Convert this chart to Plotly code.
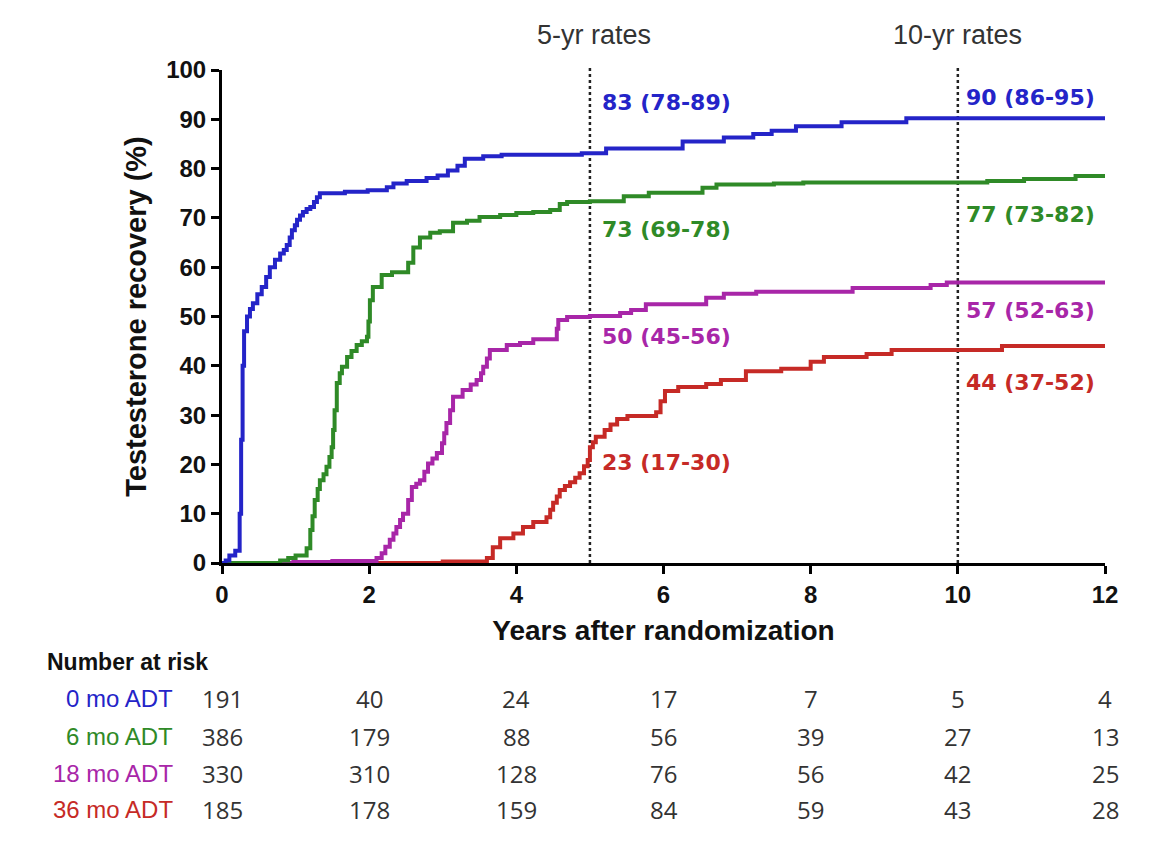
import plotly.graph_objects as go

# ---------------- data ----------------
groups = ["0 mo ADT", "6 mo ADT", "18 mo ADT", "36 mo ADT"]
colors = ["#2424c8", "#2f8a27", "#a826a8", "#c62a26"]

t_0mo = [0, 0.05, 0.10, 0.18, 0.24, 0.26, 0.28, 0.30, 0.34, 0.38, 0.42, 0.48, 0.54, 0.60, 0.65,
         0.72, 0.79, 0.84, 0.88, 0.92, 0.95, 0.99, 1.02, 1.06, 1.10, 1.15, 1.20, 1.25, 1.29, 1.33,
         1.67, 1.98, 2.24, 2.33, 2.51, 2.78, 2.93, 3.07, 3.20, 3.30, 3.55, 3.80, 4.89, 5.22, 6.26,
         6.82, 7.22, 7.47, 7.80, 8.42, 9.30, 12.0]
v_0mo = [0, 0.5, 1.5, 2.5, 10, 25, 40, 47, 50, 51.5, 52.7, 54.5, 56, 58, 60,
         61.5, 62.8, 63.5, 64.5, 66, 67.5, 68.5, 69.6, 70.5, 71.2, 71.8, 72.2, 73.2, 74.2, 75,
         75.3, 75.6, 76.2, 77, 77.5, 78.1, 78.6, 79.6, 80.6, 82, 82.5, 82.8, 83.1, 84.1, 85.5,
         86.3, 87, 87.7, 88.6, 89.4, 90.2, 90.2]

t_6mo = [0, 0.79, 0.90, 1.00, 1.15, 1.20, 1.23, 1.26, 1.30, 1.33, 1.38, 1.42, 1.46, 1.49, 1.51,
         1.53, 1.56, 1.60, 1.63, 1.70, 1.76, 1.83, 1.90, 1.97, 1.99, 2.01, 2.05, 2.17, 2.31, 2.53,
         2.60, 2.69, 2.83, 2.96, 3.14, 3.33, 3.50, 3.78, 4.00, 4.23, 4.46, 4.59, 4.69, 5.00, 5.46,
         5.80, 6.53, 6.72, 7.50, 7.90, 10.4, 10.9, 11.6, 12.0]
v_6mo = [0, 0.5, 1, 1.5, 3, 6.7, 9.5, 12.8, 15, 16.8, 18, 19.5, 21.5, 23.5, 27,
         31, 36.5, 38.5, 39.8, 41.8, 43, 44.2, 45, 45.9, 49, 53.3, 56, 58.4, 59, 60.9,
         64, 66, 67, 67.3, 69, 69.4, 70.2, 70.6, 71, 71.2, 71.6, 72.8, 73.2, 73.4, 74.4,
         75.1, 76.1, 76.8, 77, 77.2, 77.5, 77.9, 78.5, 78.6]

t_18mo = [0, 0.97, 1.50, 2.10, 2.17, 2.22, 2.28, 2.33, 2.37, 2.42, 2.46, 2.53, 2.58, 2.64, 2.69,
          2.75, 2.80, 2.86, 2.92, 2.99, 3.02, 3.05, 3.10, 3.14, 3.27, 3.38, 3.46, 3.52, 3.55, 3.60,
          3.64, 3.87, 4.05, 4.23, 4.55, 4.57, 4.69, 5.00, 5.41, 5.56, 5.76, 6.58, 6.82, 7.26, 8.57,
          9.63, 9.85, 12.0]
v_18mo = [0, 0.2, 0.4, 1, 2, 3.3, 4.7, 6, 7.3, 8.7, 10, 12.8, 15.4, 16.1, 16.8,
          18.5, 20.2, 21.2, 22.3, 24.3, 26.3, 28.4, 31, 33.7, 35.1, 36.2, 37.1, 38.5, 39.8, 41.5,
          43.2, 44.2, 44.6, 45.4, 47.5, 49.3, 49.9, 50.1, 50.7, 51.3, 52.5, 53.8, 54.6, 55, 55.8,
          56.4, 56.9, 56.9]

t_36mo = [0, 3.00, 3.60, 3.68, 3.78, 3.96, 4.09, 4.23, 4.41, 4.46, 4.50, 4.55, 4.59, 4.66, 4.73,
          4.80, 4.86, 4.92, 4.97, 5.00, 5.04, 5.08, 5.20, 5.28, 5.37, 5.51, 5.90, 5.96, 6.02, 6.20,
          6.58, 6.78, 7.12, 7.60, 8.00, 8.18, 8.76, 9.10, 10.6, 12.0]
v_36mo = [0, 0.3, 1, 3.2, 5, 6, 7.3, 8.3, 9.3, 10.8, 12.2, 13.5, 14.8, 15.6, 16.4,
          17.3, 18.2, 19.6, 20.9, 23.5, 24.5, 25.6, 27, 28.1, 29.2, 29.8, 30.6, 32.8, 34.9, 35.7,
          36.3, 37.1, 38.9, 39.4, 40.8, 41.8, 42.4, 43.2, 44, 44]

rates_5yr = ["83 (78-89)", "73 (69-78)", "50 (45-56)", "23 (17-30)"]
rates_10yr = ["90 (86-95)", "77 (73-82)", "57 (52-63)", "44 (37-52)"]

risk_times = [0, 2, 4, 6, 8, 10, 12]
risk_0mo = [191, 40, 24, 17, 7, 5, 4]
risk_6mo = [386, 179, 88, 56, 39, 27, 13]
risk_18mo = [330, 310, 128, 76, 56, 42, 25]
risk_36mo = [185, 178, 159, 84, 59, 43, 28]

x_ticks = [0, 2, 4, 6, 8, 10, 12]
y_ticks = [0, 10, 20, 30, 40, 50, 60, 70, 80, 90, 100]

# ---------------- figure ----------------
series_t = [t_0mo, t_6mo, t_18mo, t_36mo]
series_v = [v_0mo, v_6mo, v_18mo, v_36mo]
risk_rows = [risk_0mo, risk_6mo, risk_18mo, risk_36mo]

fig = go.Figure()
# draw bottom-most first: 36, 18, 6, 0
for i in [3, 2, 1, 0]:
    fig.add_trace(go.Scatter(
        x=series_t[i], y=series_v[i], mode="lines", line_shape="hv",
        line=dict(color=colors[i], width=4), name=groups[i], showlegend=False,
        cliponaxis=False))

ARIAL = "Liberation Sans, Arial, sans-serif"

# dotted reference lines
for xv in [5, 10]:
    fig.add_shape(type="line", xref="x", yref="paper", x0=xv, x1=xv, y0=0, y1=1.01,
                  line=dict(color="#222222", width=2.5, dash="dot"), layer="below")

# column headers
fig.add_annotation(x=5.05, y=1.071, xref="x", yref="paper", text="5-yr rates", showarrow=False,
                   font=dict(family=ARIAL, size=27, color="#333333"), xanchor="center", yanchor="middle")
fig.add_annotation(x=10.0, y=1.071, xref="x", yref="paper", text="10-yr rates", showarrow=False,
                   font=dict(family=ARIAL, size=27, color="#333333"), xanchor="center", yanchor="middle")

# rate labels
pos5 = [93.5, 67.7, 46.0, 20.3]
pos10 = [94.5, 70.6, 51.3, 36.7]
for i in range(4):
    fig.add_annotation(x=5.14, y=pos5[i], xref="x", yref="y", text=rates_5yr[i], showarrow=False,
                       font=dict(family="DejaVu Sans", size=22, color=colors[i], weight="bold"),
                       xanchor="left", yanchor="middle")
    fig.add_annotation(x=10.09, y=pos10[i], xref="x", yref="y", text=rates_10yr[i], showarrow=False,
                       font=dict(family="DejaVu Sans", size=22, color=colors[i], weight="bold"),
                       xanchor="left", yanchor="middle")

# number at risk table
fig.add_annotation(x=-0.2005, y=-0.201, xref="paper", yref="paper", text="Number at risk",
                   showarrow=False, font=dict(family=ARIAL, size=23, color="#111111", weight="bold"),
                   xanchor="left", yanchor="middle")
row_y = [-0.274, -0.351, -0.426, -0.501]
for i in range(4):
    fig.add_annotation(x=-0.0532, y=row_y[i], xref="paper", yref="paper", text=groups[i],
                       showarrow=False, font=dict(family=ARIAL, size=24, color=colors[i], weight=500),
                       xanchor="right", yanchor="middle")
    for t, n in zip(risk_times, risk_rows[i]):
        fig.add_annotation(x=t, y=row_y[i], xref="x", yref="paper", text=str(n), showarrow=False,
                           font=dict(family="Open Sans", size=24, color="#333333"),
                           xanchor="center", yanchor="middle")

fig.update_layout(
    width=1164, height=846,
    margin=dict(l=222, r=59, t=70, b=283),
    paper_bgcolor="white", plot_bgcolor="white",
    showlegend=False,
)
fig.update_xaxes(
    range=[0, 12], tickvals=x_ticks, ticktext=[str(v) for v in x_ticks],
    showline=True, linecolor="black", linewidth=3, mirror=False,
    ticks="outside", ticklen=8, tickwidth=3, tickcolor="black",
    showgrid=False, zeroline=False,
    tickfont=dict(family=ARIAL, size=24, color="#111111", weight="bold"),
    title=dict(text="Years after randomization", standoff=14,
               font=dict(family=ARIAL, size=28, color="#111111", weight="bold")),
)
fig.update_yaxes(
    range=[0, 100], tickvals=y_ticks, ticktext=[str(v) for v in y_ticks],
    showline=True, linecolor="black", linewidth=3, mirror=False,
    ticks="outside", ticklen=8, tickwidth=3, tickcolor="black",
    showgrid=False, zeroline=False,
    tickfont=dict(family=ARIAL, size=24, color="#111111", weight="bold"),
    title=dict(text="Testesterone recovery (%)", standoff=12,
               font=dict(family=ARIAL, size=29, color="#111111", weight="bold")),
)

fig.write_html("out.html")
